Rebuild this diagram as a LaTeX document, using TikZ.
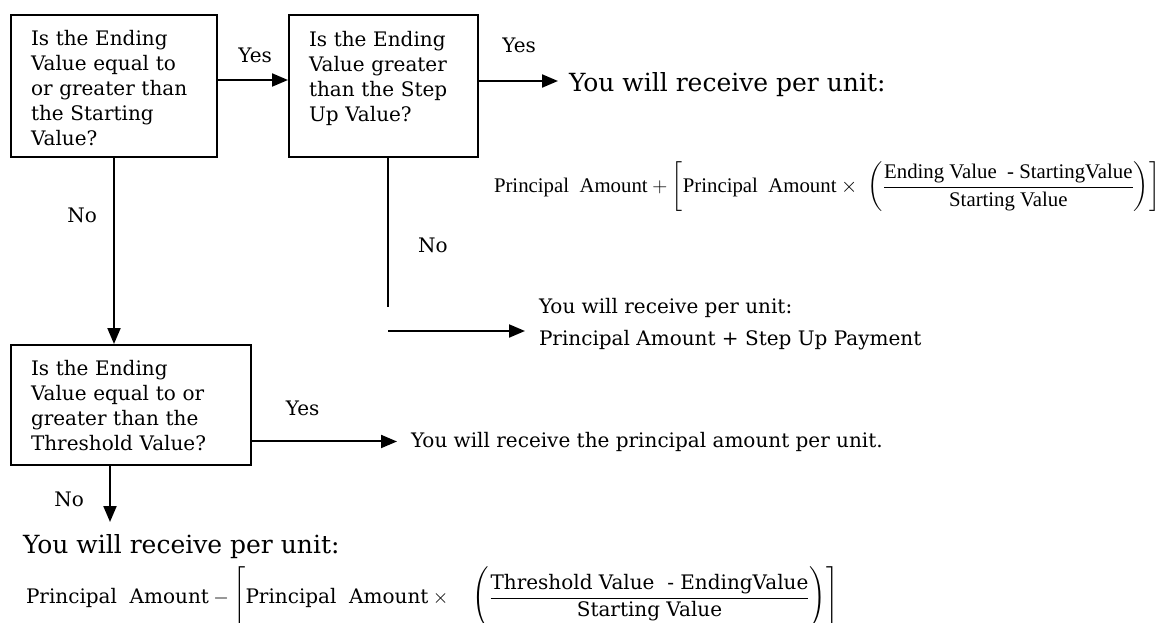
\RequirePackage{fix-cm}
\documentclass[tikz,border=0pt]{standalone}
\usepackage{amsmath}
\usepackage{fontspec}
\setmainfont{DejaVu Serif}
\newfontfamily\eqfont{Liberation Serif}
\usetikzlibrary{positioning,arrows.meta}
\newcommand{\eqtext}[1]{\text{\eqfont #1}}
\newcommand{\bodytext}[1]{\text{#1}}
\newcommand{\tallstrut}{\rule[-25pt]{0pt}{55pt}}

\begin{document}
\begin{tikzpicture}[x=1pt, y=1pt, line width=2pt,
    test/.style={draw, align=left, anchor=north west, inner xsep=20pt,
      inner ysep=0pt, font=\fontsize{20}{25}\selectfont},
    label/.style={inner sep=0pt, font=\fontsize{20}{25}\selectfont},
    payoff/.style={inner sep=0pt, font=\fontsize{25}{30}\selectfont},
    >={Triangle[length=16pt,width=13pt]}]
  \useasboundingbox (0,0) rectangle (1158,-623);

  \node[test, text width=166pt, text height=31pt, text depth=111pt]
    (start-test) at (10,-14)
    {Is the Ending\\ Value equal to\\ or greater than\\ the Starting\\ Value?};
  \node[test, right=70pt of start-test, text width=149pt, text height=31pt,
    text depth=110pt] (step-test)
    {Is the Ending\\ Value greater\\ than the Step\\ Up Value?};
  \node[test, below=186pt of start-test.south west, anchor=north west,
    text width=200pt, text height=30pt, text depth=90pt] (threshold-test)
    {Is the Ending\\ Value equal to or\\ greater than the\\ Threshold Value?};

  \node[payoff, anchor=base west] (gain-unit) at (568,-92) {You will receive per unit:};
  \node[anchor=west, inner sep=0pt, font=\fontsize{20.8}{24}\selectfont] (gain)
    at (493,-187)
    {$\eqtext{Principal~~Amount} + \left[\eqtext{Principal~~Amount} \times\;
      \left(\dfrac{\eqtext{Ending Value~~- StartingValue}}{\eqtext{Starting Value}}\right)\right]$};

  \node[label, anchor=base west] (step-unit) at (538,-313) {You will receive per unit:};
  \node[label, anchor=base west] (step-amount) at (538,-345)
    {Principal Amount + Step Up Payment};
  \node[label, anchor=base west] (par) at (410,-447)
    {You will receive the principal amount per unit.};

  \node[payoff, anchor=base west] (loss-unit) at (22,-553) {You will receive per unit:};
  \node[anchor=west, inner sep=0pt, font=\fontsize{20}{24}\selectfont] (loss)
    at (25,-598)
    {$\bodytext{Principal~~Amount} - \left[\tallstrut\bodytext{Principal~~Amount} \times\quad
      \left(\tallstrut\dfrac{\bodytext{Threshold Value~~- EndingValue}}{\bodytext{Starting Value}}\right)\right]$};

  \coordinate (step-end) at (388,-307);
  \coordinate (step-in) at (388,-331);

  \draw[->] ([yshift=6pt]start-test.east) -- ([yshift=6pt]step-test.west)
    node[label, pos=.53, above=16pt] {Yes};
  \draw[->, shorten >=10pt] ([yshift=5pt]step-test.east)
      -- ([yshift=5pt]step-test.east -| gain-unit.west)
    node[label, pos=.45, above=27pt] {Yes};
  \draw[->] (start-test.south) -- (start-test.south |- threshold-test.north)
    node[label, pos=.31, left=16pt] {No};
  \draw (step-end |- step-test.south) -- (step-end)
    node[label, pos=.59, right=29pt] {No};
  \draw[->, shorten >=13pt] (step-in) -- (step-in -| step-amount.west);
  \draw[->, shorten >=13pt] (threshold-test.east |- par.west) -- (par.west)
    node[label, pos=.32, above=25pt] {Yes};
  \draw[->, shorten >=11pt] ([xshift=-21pt]threshold-test.south)
      -- ([xshift=-21pt]threshold-test.south |- loss-unit.north)
    node[label, pos=.5, left=25pt] {No};
\end{tikzpicture}
\end{document}
